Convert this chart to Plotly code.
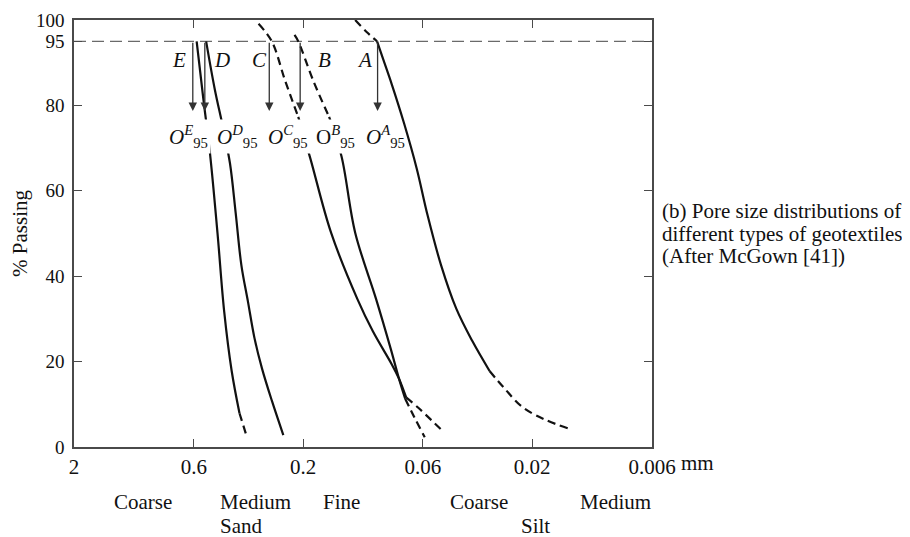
import numpy as np
import plotly.graph_objects as go

# ---------------- data ----------------
x_ticks = [2, 0.6, 0.2, 0.06, 0.02, 0.006]
x_tick_text = ["2", "0.6", "0.2", "0.06", "0.02", "0.006"]
y_ticks = [0, 20, 40, 60, 80, 95, 100]

# curve E
E_size = [0.583, 0.545, 0.510, 0.473, 0.442, 0.410, 0.379, 0.355]
E_pass = [95, 81.5, 68.8, 50.2, 31.7, 17.8, 7.9, 3.0]
# curve D
D_size = [0.530, 0.486, 0.446, 0.417, 0.394, 0.372, 0.348, 0.326, 0.302, 0.274, 0.244]
D_pass = [95, 83.8, 74.5, 66.4, 54.9, 42.6, 34.0, 25.5, 18.3, 10.9, 2.8]
# curve C
C_size = [0.313, 0.274, 0.240, 0.210, 0.186, 0.151, 0.116, 0.0992, 0.0821, 0.0763, 0.0710, 0.0632, 0.0551, 0.0486]
C_pass = [99.1, 95, 85.9, 77.3, 67.6, 50.2, 34.7, 27.1, 19.4, 16.0, 11.6, 9.3, 6.3, 3.5]
# curve B
B_size = [0.218, 0.210, 0.180, 0.154, 0.136, 0.1185, 0.0961, 0.0830, 0.0763, 0.0717, 0.0653, 0.0589]
B_pass = [96.5, 95, 85.6, 77.3, 68.1, 50.2, 34.7, 23.1, 16.0, 11.3, 6.9, 2.3]
# curve A
A_size = [0.1185, 0.1056, 0.0951, 0.0893, 0.0821, 0.0724, 0.0639, 0.0572, 0.0500,
          0.0429, 0.0365, 0.0307, 0.0266, 0.0220, 0.0174, 0.0140]
A_pass = [100, 97.2, 95, 90.7, 85.0, 75.7, 65.3, 54.2, 42.6, 32.4, 24.8, 17.8, 13.9, 9.3, 6.3, 4.4]

# index of first / last point of the solid part of each curve (rest dashed)
curve_names = ["E", "D", "C", "B", "A"]
curve_sizes = [E_size, D_size, C_size, B_size, A_size]
curve_passes = [E_pass, D_pass, C_pass, B_pass, A_pass]
solid_start = [0, 0, 3, 3, 2]
solid_end = [6, 10, 10, 9, 11]

# O95 arrows and labels
level_95 = 95
arrow_tip = 78.7
arrow_size = [0.606, 0.537, 0.281, 0.206, 0.0946]
letter_size = [0.694, 0.450, 0.310, 0.162, 0.108]
letter_pass = 90.7
o_size = [0.630, 0.387, 0.233, 0.145, 0.0871]
o_pass = 72.7
o_text = ["<i>O</i><sup><i>E</i></sup><sub>95</sub>",
          "<i>O</i><sup><i>D</i></sup><sub>95</sub>",
          "<i>O</i><sup><i>C</i></sup><sub>95</sub>",
          "O<sup><i>B</i></sup><sub>95</sub>",
          "<i>O</i><sup><i>A</i></sup><sub>95</sub>"]

# soil classes under the axis
class_text = ["Coarse", "Medium", "Sand", "Fine", "Coarse", "Silt", "Medium"]
class_size = [1.0, 0.471, 0.471, 0.136, 0.0342, 0.0194, 0.00867]
class_row = [0, 0, 1, 0, 0, 1, 0]
class_anchor = ["center", "left", "left", "center", "center", "center", "center"]

side_text = ["(b) Pore size distributions of",
             "different types of geotextiles",
             "(After McGown [41])"]

FONT = "Liberation Serif"
INK = "#111111"
AX = "#4a4a4a"
DASH = "8px,5px"

fig = go.Figure()

# 95 % reference line
fig.add_trace(go.Scatter(x=[x_ticks[0], x_ticks[-1]], y=[level_95, level_95], mode="lines",
                         line=dict(color="#6a6a6a", width=1.4, dash="12px,6px"),
                         hoverinfo="skip"))

# curves
for name, xs, ys, s0, s1 in zip(curve_names, curve_sizes, curve_passes, solid_start, solid_end):
    parts = []
    if s0 > 0:
        parts.append((0, s0, DASH))
    parts.append((s0, s1, "solid"))
    if s1 < len(xs) - 1:
        parts.append((s1, len(xs) - 1, DASH))
    for a, b, dash in parts:
        fig.add_trace(go.Scatter(x=xs[a:b + 1], y=ys[a:b + 1], mode="lines", name=name,
                                 line=dict(color=INK, width=2.2, dash=dash,
                                           shape="spline", smoothing=1.0),
                                 cliponaxis=False, hoverinfo="skip"))

annotations = []
# arrows
for xs in arrow_size:
    lx = float(np.log10(xs))
    annotations.append(dict(x=lx, y=arrow_tip, ax=lx, ay=level_95, xref="x", yref="y",
                            axref="x", ayref="y", text="", showarrow=True,
                            arrowhead=2, arrowsize=1.3, arrowwidth=1.3,
                            arrowcolor="#333333", standoff=0, startstandoff=0))
# letters
for name, xs in zip(curve_names, letter_size):
    annotations.append(dict(x=float(np.log10(xs)), y=letter_pass, xref="x", yref="y",
                            text=f"<i>{name}</i>", showarrow=False,
                            font=dict(family=FONT, size=21, color=INK)))
# O95 labels
for i, (xs, t) in enumerate(zip(o_size, o_text)):
    annotations.append(dict(x=float(np.log10(xs)), y=o_pass, xref="x", yref="y",
                            text=t, showarrow=False,
                            bgcolor=None if i == 4 else "white", borderpad=2,
                            font=dict(family=FONT, size=21, color=INK)))
# soil classes
row_y = [-0.129, -0.184]
for t, xs, r, anc in zip(class_text, class_size, class_row, class_anchor):
    annotations.append(dict(x=float(np.log10(xs)), y=row_y[r], xref="x", yref="paper",
                            text=t, showarrow=False, xanchor=anc, yanchor="middle",
                            font=dict(family=FONT, size=21, color=INK)))
# unit
annotations.append(dict(x=1, y=-0.037, xref="paper", yref="paper", xshift=27,
                        text="mm", showarrow=False, xanchor="left", yanchor="middle",
                        font=dict(family=FONT, size=21, color=INK)))
# side caption
for t, yy in zip(side_text, [0.552, 0.500, 0.447]):
    annotations.append(dict(x=1, y=yy, xref="paper", yref="paper", xshift=8,
                            text=t, showarrow=False, xanchor="left", yanchor="middle",
                            align="left", font=dict(family=FONT, size=21, color=INK)))

fig.update_layout(
    width=902, height=529,
    margin=dict(l=66, r=258, t=10, b=90),
    plot_bgcolor="white", paper_bgcolor="white",
    showlegend=False,
    font=dict(family=FONT, size=21, color=INK),
    annotations=annotations,
    xaxis=dict(type="log", range=[np.log10(x_ticks[0]), np.log10(x_ticks[-1])],
               tickmode="array", tickvals=x_ticks, ticktext=x_tick_text,
               ticks="inside", ticklen=8, tickwidth=1.3, tickcolor=AX,
               showline=True, linecolor=AX, linewidth=1.6, mirror="ticks",
               showgrid=False, zeroline=False,
               tickfont=dict(family=FONT, size=21, color=INK)),
    yaxis=dict(range=[0, 100], tickmode="array", tickvals=y_ticks,
               ticks="inside", ticklen=8, tickwidth=1.3, tickcolor=AX,
               showline=True, linecolor=AX, linewidth=1.6, mirror="ticks",
               showgrid=False, zeroline=False, automargin=False,
               ticklabelstandoff=4, ticklabeloverflow="allow",
               tickfont=dict(family=FONT, size=19, color=INK),
               title=dict(text="% Passing", standoff=10,
                          font=dict(family=FONT, size=21, color=INK))),
)

fig.write_html("out.html")
